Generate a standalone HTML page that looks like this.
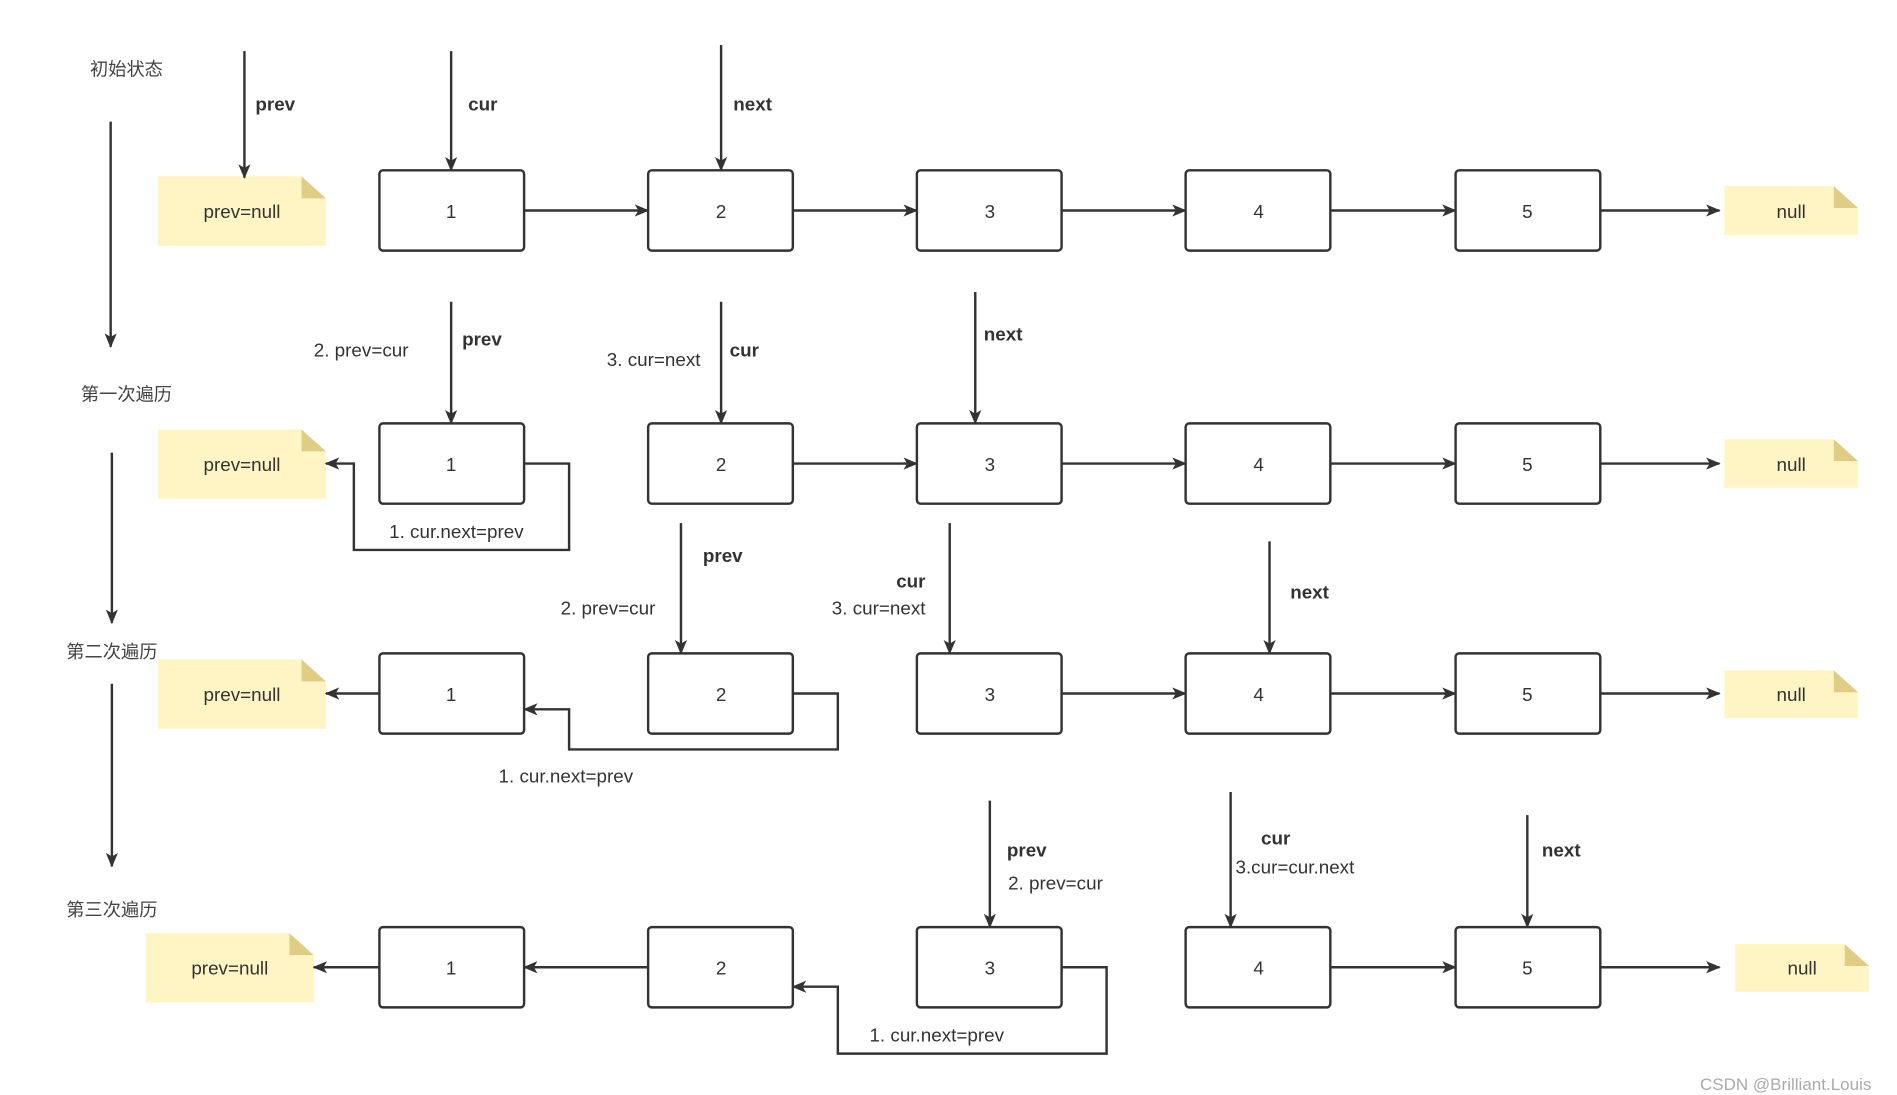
<!DOCTYPE html>
<html><head><meta charset="utf-8"><style>
html,body{margin:0;padding:0;background:#fff}
svg{display:block}
text{font-family:"Liberation Sans","Noto Sans CJK SC",sans-serif;fill:#333;font-size:15.5px}
.b{font-weight:bold}
.c{font-size:15px;fill:#444}
.m{text-anchor:middle}
</style></head><body>
<svg width="1897" height="1095" viewBox="0 0 1560 900" preserveAspectRatio="none" xmlns="http://www.w3.org/2000/svg">
<defs>
<marker id="a" markerWidth="12" markerHeight="10" refX="11" refY="5" orient="auto" markerUnits="userSpaceOnUse">
<path d="M0,0 L12,5 L0,10 L3,5 Z" fill="#333"/></marker>
</defs>
<g stroke="#333" stroke-width="2" fill="none">
<!-- left flow arrows -->
<line x1="91" y1="100" x2="91" y2="285" marker-end="url(#a)"/>
<line x1="92" y1="372" x2="92" y2="512" marker-end="url(#a)"/>
<line x1="92" y1="562" x2="92" y2="712" marker-end="url(#a)"/>
</g>
<text class="c m" x="104" y="62">初始状态</text>
<text class="c m" x="104" y="329">第一次遍历</text>
<text class="c m" x="92" y="541">第二次遍历</text>
<text class="c m" x="92" y="753">第三次遍历</text>

<!-- notes -->
<g>
<path d="M130,145 H248 L268,163 V202 H130 Z" fill="#fff4c3"/><path d="M248,145 L268,163 H248 Z" fill="#e0cd85"/>
<path d="M130,353 H248 L268,371 V410 H130 Z" fill="#fff4c3"/><path d="M248,353 L268,371 H248 Z" fill="#e0cd85"/>
<path d="M130,542 H248 L268,560 V599 H130 Z" fill="#fff4c3"/><path d="M248,542 L268,560 H248 Z" fill="#e0cd85"/>
<path d="M120,767 H238 L258,785 V824 H120 Z" fill="#fff4c3"/><path d="M238,767 L258,785 H238 Z" fill="#e0cd85"/>
<path d="M1418,153 H1508 L1528,171 V193 H1418 Z" fill="#fff4c3"/><path d="M1508,153 L1528,171 H1508 Z" fill="#e0cd85"/>
<path d="M1418,361 H1508 L1528,379 V401 H1418 Z" fill="#fff4c3"/><path d="M1508,361 L1528,379 H1508 Z" fill="#e0cd85"/>
<path d="M1418,551 H1508 L1528,569 V590 H1418 Z" fill="#fff4c3"/><path d="M1508,551 L1528,569 H1508 Z" fill="#e0cd85"/>
<path d="M1427,776 H1517 L1537,794 V815 H1427 Z" fill="#fff4c3"/><path d="M1517,776 L1537,794 H1517 Z" fill="#e0cd85"/>
</g>
<text class="m" x="199" y="179">prev=null</text>
<text class="m" x="199" y="387">prev=null</text>
<text class="m" x="199" y="576">prev=null</text>
<text class="m" x="189" y="801">prev=null</text>
<text class="m" x="1473" y="179">null</text>
<text class="m" x="1473" y="387">null</text>
<text class="m" x="1473" y="576">null</text>
<text class="m" x="1482" y="801">null</text>

<!-- boxes -->
<g stroke="#333" stroke-width="2" fill="#fff">
<rect x="312" y="140" width="119" height="66" rx="3"/><rect x="533" y="140" width="119" height="66" rx="3"/><rect x="754" y="140" width="119" height="66" rx="3"/><rect x="975" y="140" width="119" height="66" rx="3"/><rect x="1197" y="140" width="119" height="66" rx="3"/>
<rect x="312" y="348" width="119" height="66" rx="3"/><rect x="533" y="348" width="119" height="66" rx="3"/><rect x="754" y="348" width="119" height="66" rx="3"/><rect x="975" y="348" width="119" height="66" rx="3"/><rect x="1197" y="348" width="119" height="66" rx="3"/>
<rect x="312" y="537" width="119" height="66" rx="3"/><rect x="533" y="537" width="119" height="66" rx="3"/><rect x="754" y="537" width="119" height="66" rx="3"/><rect x="975" y="537" width="119" height="66" rx="3"/><rect x="1197" y="537" width="119" height="66" rx="3"/>
<rect x="312" y="762" width="119" height="66" rx="3"/><rect x="533" y="762" width="119" height="66" rx="3"/><rect x="754" y="762" width="119" height="66" rx="3"/><rect x="975" y="762" width="119" height="66" rx="3"/><rect x="1197" y="762" width="119" height="66" rx="3"/>
</g>
<g class="m">
<text class="m" x="371" y="179">1</text><text class="m" x="593" y="179">2</text><text class="m" x="814" y="179">3</text><text class="m" x="1035" y="179">4</text><text class="m" x="1256" y="179">5</text>
<text class="m" x="371" y="387">1</text><text class="m" x="593" y="387">2</text><text class="m" x="814" y="387">3</text><text class="m" x="1035" y="387">4</text><text class="m" x="1256" y="387">5</text>
<text class="m" x="371" y="576">1</text><text class="m" x="593" y="576">2</text><text class="m" x="814" y="576">3</text><text class="m" x="1035" y="576">4</text><text class="m" x="1256" y="576">5</text>
<text class="m" x="371" y="801">1</text><text class="m" x="593" y="801">2</text><text class="m" x="814" y="801">3</text><text class="m" x="1035" y="801">4</text><text class="m" x="1256" y="801">5</text>
</g>

<g stroke="#333" stroke-width="2" fill="none">
<!-- row1 -->
<line x1="201" y1="42" x2="201" y2="146" marker-end="url(#a)"/>
<line x1="371" y1="42" x2="371" y2="140" marker-end="url(#a)"/>
<line x1="593" y1="37" x2="593" y2="140" marker-end="url(#a)"/>
<line x1="431" y1="173" x2="533" y2="173" marker-end="url(#a)"/>
<line x1="652" y1="173" x2="754" y2="173" marker-end="url(#a)"/>
<line x1="873" y1="173" x2="975" y2="173" marker-end="url(#a)"/>
<line x1="1094" y1="173" x2="1197" y2="173" marker-end="url(#a)"/>
<line x1="1316" y1="173" x2="1414" y2="173" marker-end="url(#a)"/>
<!-- row2 -->
<line x1="371" y1="248" x2="371" y2="348" marker-end="url(#a)"/>
<line x1="593" y1="248" x2="593" y2="348" marker-end="url(#a)"/>
<line x1="802" y1="240" x2="802" y2="348" marker-end="url(#a)"/>
<polyline points="431,381 468,381 468,452 291,452 291,381 268,381" marker-end="url(#a)"/>
<line x1="652" y1="381" x2="754" y2="381" marker-end="url(#a)"/>
<line x1="873" y1="381" x2="975" y2="381" marker-end="url(#a)"/>
<line x1="1094" y1="381" x2="1197" y2="381" marker-end="url(#a)"/>
<line x1="1316" y1="381" x2="1414" y2="381" marker-end="url(#a)"/>
<!-- row3 -->
<line x1="312" y1="570" x2="268" y2="570" marker-end="url(#a)"/>
<line x1="560" y1="430" x2="560" y2="537" marker-end="url(#a)"/>
<line x1="781" y1="430" x2="781" y2="537" marker-end="url(#a)"/>
<line x1="1044" y1="445" x2="1044" y2="537" marker-end="url(#a)"/>
<polyline points="652,570 689,570 689,616 468,616 468,583 431,583" marker-end="url(#a)"/>
<line x1="873" y1="570" x2="975" y2="570" marker-end="url(#a)"/>
<line x1="1094" y1="570" x2="1197" y2="570" marker-end="url(#a)"/>
<line x1="1316" y1="570" x2="1414" y2="570" marker-end="url(#a)"/>
<!-- row4 -->
<line x1="312" y1="795" x2="258" y2="795" marker-end="url(#a)"/>
<line x1="533" y1="795" x2="431" y2="795" marker-end="url(#a)"/>
<line x1="814" y1="658" x2="814" y2="762" marker-end="url(#a)"/>
<line x1="1012" y1="651" x2="1012" y2="762" marker-end="url(#a)"/>
<line x1="1256" y1="670" x2="1256" y2="762" marker-end="url(#a)"/>
<polyline points="873,795 910,795 910,866 689,866 689,811 652,811" marker-end="url(#a)"/>
<line x1="1094" y1="795" x2="1197" y2="795" marker-end="url(#a)"/>
<line x1="1316" y1="795" x2="1414" y2="795" marker-end="url(#a)"/>
</g>

<!-- labels -->
<text class="b" x="210" y="91">prev</text>
<text class="b" x="385" y="91">cur</text>
<text class="b" x="603" y="91">next</text>

<text class="b" x="380" y="284">prev</text>
<text x="258" y="293">2. prev=cur</text>
<text class="b" x="600" y="293">cur</text>
<text x="499" y="301">3. cur=next</text>
<text class="b" x="809" y="280">next</text>
<text x="320" y="442">1. cur.next=prev</text>

<text class="b" x="578" y="462">prev</text>
<text x="461" y="505">2. prev=cur</text>
<text class="b" x="737" y="483">cur</text>
<text x="684" y="505">3. cur=next</text>
<text class="b" x="1061" y="492">next</text>
<text x="410" y="643">1. cur.next=prev</text>

<text class="b" x="828" y="704">prev</text>
<text x="829" y="731">2. prev=cur</text>
<text class="b" x="1037" y="694">cur</text>
<text x="1016" y="718">3.cur=cur.next</text>
<text class="b" x="1268" y="704">next</text>
<text x="715" y="856">1. cur.next=prev</text>

<text x="1398" y="896" style="fill:#aaa;font-size:14px">CSDN @Brilliant.Louis</text>
</svg>
</body></html>
